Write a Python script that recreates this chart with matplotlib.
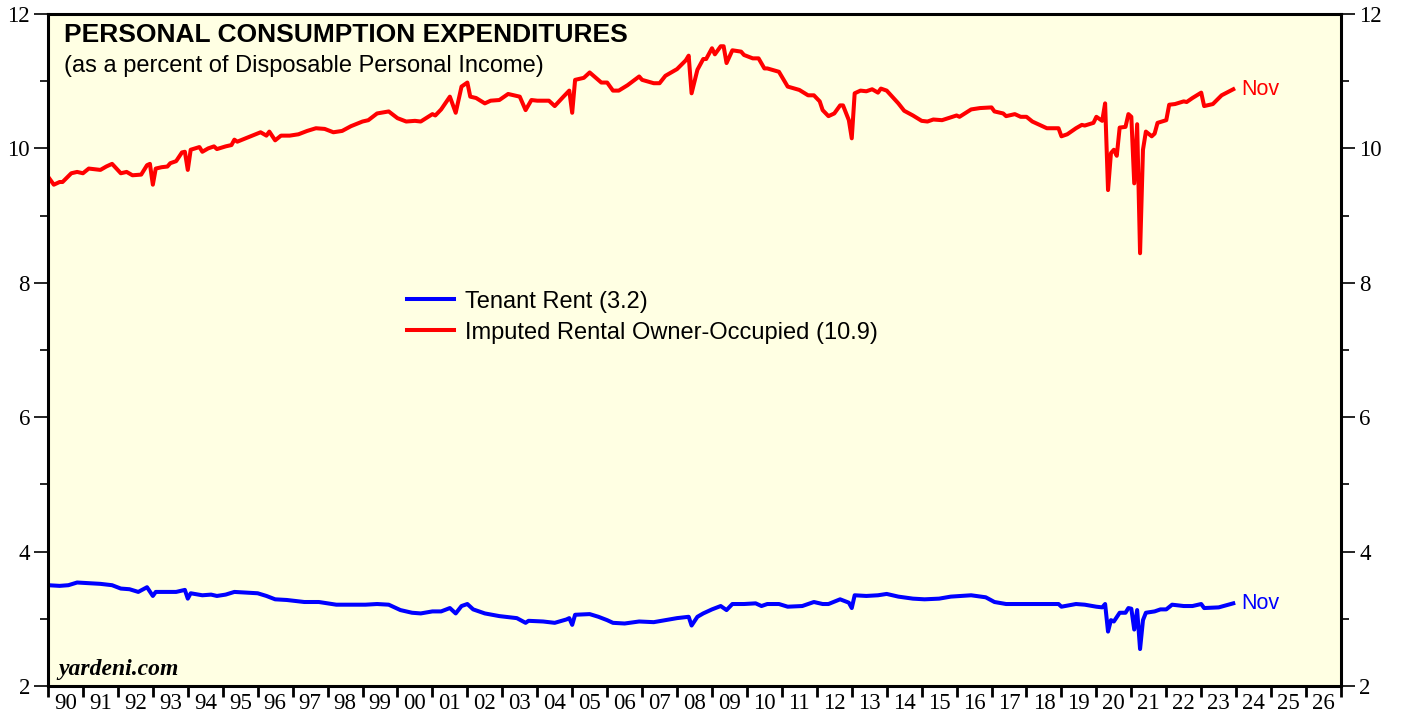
import matplotlib
matplotlib.use('Agg')
import matplotlib.pyplot as plt
import numpy as np
from matplotlib.ticker import FixedLocator, MultipleLocator

# ---------- data (monthly) ----------
red_dates = [
    '1989-12', '1990-02', '1990-04', '1990-05', '1990-08', '1990-10', '1990-12', '1991-02', '1991-06', '1991-08',
    '1991-10', '1992-01', '1992-03', '1992-05', '1992-08', '1992-10', '1992-11', '1992-12', '1993-01', '1993-03',
    '1993-05', '1993-06', '1993-08', '1993-10', '1993-11', '1993-12', '1994-01', '1994-04', '1994-05', '1994-07',
    '1994-09', '1994-10', '1995-01', '1995-03', '1995-04', '1995-05', '1995-09', '1996-01', '1996-03', '1996-04',
    '1996-06', '1996-08', '1996-11', '1997-02', '1997-05', '1997-08', '1997-11', '1998-02', '1998-05', '1998-08',
    '1998-12', '1999-02', '1999-05', '1999-09', '1999-12', '2000-03', '2000-06', '2000-08', '2000-12', '2001-01',
    '2001-03', '2001-06', '2001-08', '2001-10', '2001-12', '2002-01', '2002-03', '2002-06', '2002-08', '2002-11',
    '2003-02', '2003-06', '2003-08', '2003-10', '2003-12', '2004-04', '2004-06', '2004-09', '2004-11', '2004-12',
    '2005-01', '2005-04', '2005-06', '2005-10', '2005-12', '2006-02', '2006-04', '2006-07', '2006-11', '2006-12',
    '2007-04', '2007-06', '2007-08', '2007-12', '2008-03', '2008-04', '2008-05', '2008-07', '2008-09', '2008-10',
    '2008-12', '2009-01', '2009-03', '2009-04', '2009-05', '2009-07', '2009-10', '2009-11', '2010-02', '2010-04',
    '2010-06', '2010-07', '2010-11', '2011-02', '2011-06', '2011-09', '2011-11', '2012-01', '2012-02', '2012-04',
    '2012-06', '2012-08', '2012-09', '2012-11', '2012-12', '2013-01', '2013-03', '2013-05', '2013-07', '2013-09',
    '2013-10', '2013-12', '2014-04', '2014-06', '2014-09', '2014-12', '2015-02', '2015-04', '2015-07', '2015-12',
    '2016-01', '2016-05', '2016-08', '2016-12', '2017-01', '2017-04', '2017-05', '2017-08', '2017-10', '2017-12',
    '2018-02', '2018-04', '2018-07', '2018-11', '2018-12', '2019-02', '2019-05', '2019-07', '2019-08', '2019-11',
    '2019-12', '2020-02', '2020-03', '2020-04', '2020-05', '2020-06', '2020-07', '2020-08', '2020-10', '2020-11',
    '2020-12', '2021-01', '2021-02', '2021-03', '2021-04', '2021-05', '2021-07', '2021-08', '2021-09', '2021-12',
    '2022-01', '2022-03', '2022-06', '2022-07', '2022-09', '2022-12', '2023-01', '2023-04', '2023-07', '2023-11',
]
red_vals = [
    9.58, 9.46, 9.50, 9.50, 9.63, 9.65, 9.63, 9.70, 9.68, 9.73,
    9.77, 9.63, 9.65, 9.60, 9.61, 9.75, 9.77, 9.46, 9.70, 9.72,
    9.73, 9.78, 9.81, 9.94, 9.95, 9.68, 9.98, 10.02, 9.95, 10.00,
    10.03, 9.99, 10.03, 10.05, 10.13, 10.10, 10.17, 10.24, 10.19, 10.25,
    10.12, 10.19, 10.19, 10.21, 10.26, 10.30, 10.29, 10.24, 10.26, 10.33,
    10.40, 10.42, 10.52, 10.55, 10.45, 10.40, 10.41, 10.40, 10.51, 10.49,
    10.58, 10.77, 10.53, 10.92, 10.98, 10.77, 10.75, 10.67, 10.71, 10.72,
    10.81, 10.77, 10.57, 10.72, 10.71, 10.71, 10.63, 10.77, 10.86, 10.53,
    11.02, 11.05, 11.13, 10.98, 10.98, 10.86, 10.86, 10.94, 11.07, 11.02,
    10.97, 10.97, 11.08, 11.18, 11.31, 11.38, 10.82, 11.17, 11.33, 11.33,
    11.49, 11.40, 11.52, 11.52, 11.27, 11.46, 11.44, 11.39, 11.34, 11.34,
    11.19, 11.19, 11.14, 10.92, 10.87, 10.79, 10.79, 10.70, 10.57, 10.48,
    10.52, 10.64, 10.64, 10.42, 10.15, 10.82, 10.86, 10.85, 10.88, 10.83,
    10.89, 10.86, 10.67, 10.56, 10.49, 10.41, 10.40, 10.43, 10.42, 10.49,
    10.47, 10.58, 10.60, 10.61, 10.55, 10.52, 10.48, 10.51, 10.47, 10.47,
    10.40, 10.36, 10.30, 10.30, 10.18, 10.21, 10.30, 10.35, 10.34, 10.38,
    10.47, 10.41, 10.67, 9.38, 9.93, 9.98, 9.89, 10.31, 10.32, 10.51,
    10.47, 9.48, 10.36, 8.44, 9.98, 10.25, 10.18, 10.22, 10.38, 10.42,
    10.65, 10.66, 10.70, 10.69, 10.75, 10.83, 10.63, 10.66, 10.79, 10.88,
]

blue_dates = [
    '1989-12', '1990-04', '1990-07', '1990-10', '1991-02', '1991-06', '1991-10', '1992-01', '1992-04', '1992-07',
    '1992-10', '1992-12', '1993-01', '1993-05', '1993-08', '1993-11', '1993-12', '1994-01', '1994-05', '1994-08',
    '1994-10', '1995-01', '1995-04', '1995-08', '1995-12', '1996-03', '1996-06', '1996-10', '1997-04', '1997-09',
    '1998-03', '1998-09', '1999-01', '1999-05', '1999-09', '2000-01', '2000-05', '2000-08', '2000-12', '2001-03',
    '2001-06', '2001-08', '2001-10', '2001-12', '2002-02', '2002-06', '2002-11', '2003-05', '2003-08', '2003-09',
    '2004-02', '2004-06', '2004-10', '2004-11', '2004-12', '2005-01', '2005-06', '2005-09', '2005-12', '2006-02',
    '2006-06', '2006-11', '2007-04', '2007-08', '2007-12', '2008-04', '2008-05', '2008-07', '2008-09', '2008-12',
    '2009-03', '2009-05', '2009-07', '2009-11', '2010-03', '2010-05', '2010-07', '2010-11', '2011-02', '2011-07',
    '2011-11', '2012-02', '2012-04', '2012-08', '2012-11', '2012-12', '2013-01', '2013-05', '2013-09', '2013-12',
    '2014-04', '2014-09', '2015-01', '2015-06', '2015-10', '2016-05', '2016-10', '2017-01', '2017-05', '2017-12',
    '2018-06', '2018-11', '2018-12', '2019-05', '2019-08', '2019-12', '2020-02', '2020-03', '2020-04', '2020-05',
    '2020-06', '2020-08', '2020-10', '2020-11', '2020-12', '2021-01', '2021-02', '2021-03', '2021-04', '2021-05',
    '2021-08', '2021-10', '2021-12', '2022-02', '2022-06', '2022-09', '2022-12', '2023-01', '2023-06', '2023-11',
]
blue_vals = [
    3.50, 3.49, 3.50, 3.54, 3.53, 3.52, 3.50, 3.45, 3.44, 3.40,
    3.47, 3.34, 3.40, 3.40, 3.40, 3.43, 3.30, 3.38, 3.35, 3.36,
    3.34, 3.36, 3.40, 3.39, 3.38, 3.34, 3.29, 3.28, 3.25, 3.25,
    3.21, 3.21, 3.21, 3.22, 3.21, 3.13, 3.09, 3.08, 3.11, 3.11,
    3.16, 3.08, 3.19, 3.22, 3.14, 3.08, 3.04, 3.01, 2.94, 2.97,
    2.96, 2.94, 2.99, 3.01, 2.91, 3.06, 3.07, 3.03, 2.98, 2.94,
    2.93, 2.96, 2.95, 2.98, 3.01, 3.03, 2.90, 3.03, 3.08, 3.14,
    3.19, 3.13, 3.22, 3.22, 3.23, 3.19, 3.22, 3.22, 3.18, 3.19,
    3.25, 3.22, 3.22, 3.29, 3.24, 3.16, 3.35, 3.34, 3.35, 3.37,
    3.33, 3.30, 3.29, 3.30, 3.33, 3.35, 3.32, 3.25, 3.22, 3.22,
    3.22, 3.22, 3.18, 3.22, 3.21, 3.18, 3.17, 3.22, 2.81, 2.98,
    2.96, 3.09, 3.09, 3.16, 3.15, 2.84, 3.13, 2.55, 2.98, 3.09,
    3.11, 3.14, 3.14, 3.21, 3.19, 3.19, 3.22, 3.16, 3.17, 3.23,
]

series_labels = ['Tenant Rent (3.2)', 'Imputed Rental Owner-Occupied (10.9)']
series_colors = ['#0000FF', '#FF0000']
last_label = 'Nov'
year_first, year_last = 1990, 2026


def to_year(dates):
    # monthly value plotted at the end of its month
    out = []
    for d in dates:
        y, m = d.split('-')
        out.append(int(y) + int(m) / 12.0)
    return np.array(out)


fig = plt.figure(figsize=(14.03, 7.17), dpi=100)
fig.patch.set_facecolor('white')
ax = fig.add_axes([48 / 1403, 31 / 717, 1293 / 1403, 672 / 717])
ax.set_facecolor('#FFFFE3')

bx, rx = to_year(blue_dates), to_year(red_dates)
lb, = ax.plot(bx, blue_vals, color=series_colors[0], lw=2.9, solid_joinstyle='round', label=series_labels[0])
lr, = ax.plot(rx, red_vals, color=series_colors[1], lw=2.9, solid_joinstyle='round', label=series_labels[1])

for xs, vs, c in [(bx, blue_vals, series_colors[0]), (rx, red_vals, series_colors[1])]:
    ax.annotate(last_label, xy=(xs[-1], vs[-1]), xytext=(6, 0), textcoords='offset points',
                va='center', ha='left', color=c, fontsize=15.5, family='Liberation Sans')

ax.set_xlim(year_first, year_last + 1)
ax.set_ylim(2, 12)

# y axis: both sides
ax.yaxis.set_major_locator(MultipleLocator(2))
ax.yaxis.set_minor_locator(MultipleLocator(1))
ax.tick_params(axis='y', which='major', direction='out', length=10, width=1.2, left=True, right=True,
               labelleft=True, labelright=True, labelsize=16.5, pad=3)
ax.tick_params(axis='y', which='minor', direction='out', length=6, width=1.2, left=True, right=True)
for lab in ax.get_yticklabels():
    lab.set_family('Liberation Serif')

# x axis: ticks at year boundaries, labels centered between
years = np.arange(year_first, year_last + 1)
ax.xaxis.set_major_locator(FixedLocator(np.arange(year_first, year_last + 2)))
ax.xaxis.set_minor_locator(FixedLocator(years + 0.5))
ax.xaxis.set_major_formatter(plt.NullFormatter())
ax.xaxis.set_minor_formatter(plt.FixedFormatter(['%02d' % (y % 100) for y in years]))
ax.tick_params(axis='x', which='major', direction='out', length=8, width=2)
ax.tick_params(axis='x', which='minor', length=0, labelsize=16.5, pad=5)
for lab in ax.get_xticklabels(minor=True):
    lab.set_family('Liberation Serif')

for s in ax.spines.values():
    s.set_linewidth(2.2)

ax.text(0.0124, 0.958, 'PERSONAL CONSUMPTION EXPENDITURES', transform=ax.transAxes,
        fontsize=19, fontweight='bold', family='Liberation Sans', va='baseline')
ax.text(0.0124, 0.914, '(as a percent of Disposable Personal Income)', transform=ax.transAxes,
        fontsize=17, family='Liberation Sans', va='baseline')
ax.text(0.008, 0.016, 'yardeni.com', transform=ax.transAxes, fontsize=17, fontweight='bold',
        fontstyle='italic', family='Liberation Serif', va='baseline')

leg = ax.legend(handles=[lb, lr], loc='center left', bbox_to_anchor=(0.2777, 0.549), frameon=False,
                prop={'family': 'Liberation Sans', 'size': 17}, handlelength=2.0, handletextpad=0.45,
                borderpad=0, borderaxespad=0, labelspacing=0.38)

fig.savefig('out.png', dpi=100, facecolor='white')
